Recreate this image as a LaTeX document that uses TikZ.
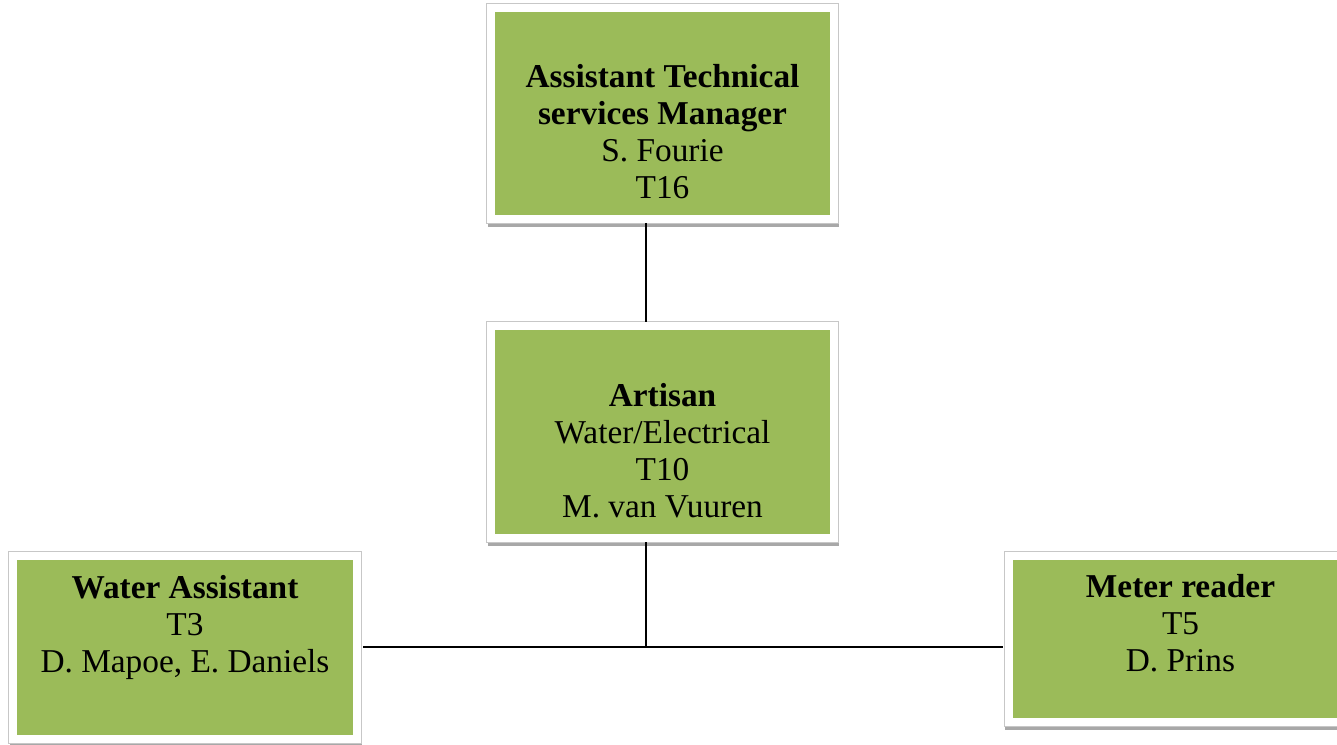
\documentclass[tikz,border=0pt]{standalone}
\usepackage{fontspec}
\setmainfont{Liberation Serif}
\usetikzlibrary{calc}
\definecolor{boxgreen}{HTML}{9BBB59}
\definecolor{shadowgray}{HTML}{A8A8A8}
\tikzset{
  x=0.75pt, y=-0.75pt,
  orgbox/.style={rectangle, inner sep=0pt, fill=boxgreen, draw=white, line width=6pt,
    preaction={fill=shadowgray, draw=shadowgray, line width=6pt, transform canvas={yshift=-3.2pt, xshift=0.5pt}},
    preaction={draw=black!22, line width=7.2pt}},
  orgtext/.style={align=center, inner sep=0pt, font=\fontsize{25}{27.75}\selectfont},
  link/.style={draw=black, line width=1.5pt}
}
\begin{document}
\begin{tikzpicture}
\useasboundingbox (0,0) rectangle (1337,745);
\clip (0,0) rectangle (1337,745);
\fill[white] (0,0) rectangle (1337,745);
% boxes
\node[orgbox, minimum width=343*0.75pt, minimum height=211*0.75pt] (top) at (662.5,113.5) {};
\node[orgbox, minimum width=343*0.75pt, minimum height=212*0.75pt] (mid) at (662.5,432) {};
\node[orgbox, minimum width=344*0.75pt, minimum height=183*0.75pt] (wa) at (185,647.5) {};
\node[orgbox, minimum width=344*0.75pt, minimum height=166*0.75pt] (mr) at (1180.5,639) {};
% texts
\node[orgtext] (topt) at (662.5,132) {\textbf{Assistant Technical}\\\textbf{services Manager}\\S. Fourie\\T16};
\node[orgtext] (midt) at (662.5,450.5) {\textbf{Artisan}\\Water/Electrical\\T10\\M. van Vuuren};
\node[orgtext] (wat) at (185,627.5) {\textbf{Water Assistant}\\T3\\D. Mapoe, E. Daniels};
\node[orgtext] (mrt) at (1180.5,623.5) {\textbf{Meter reader}\\T5\\D. Prins};
% connectors
\coordinate (spine) at (646,647);
\draw[link] (spine |- top.south) -- (spine |- mid.north);
\draw[link] (spine |- mid.south) -- (spine);
\draw[link] ([xshift=1.5pt]wa.east |- spine) -- ([xshift=-1.5pt]mr.west |- spine);
\end{tikzpicture}
\end{document}
